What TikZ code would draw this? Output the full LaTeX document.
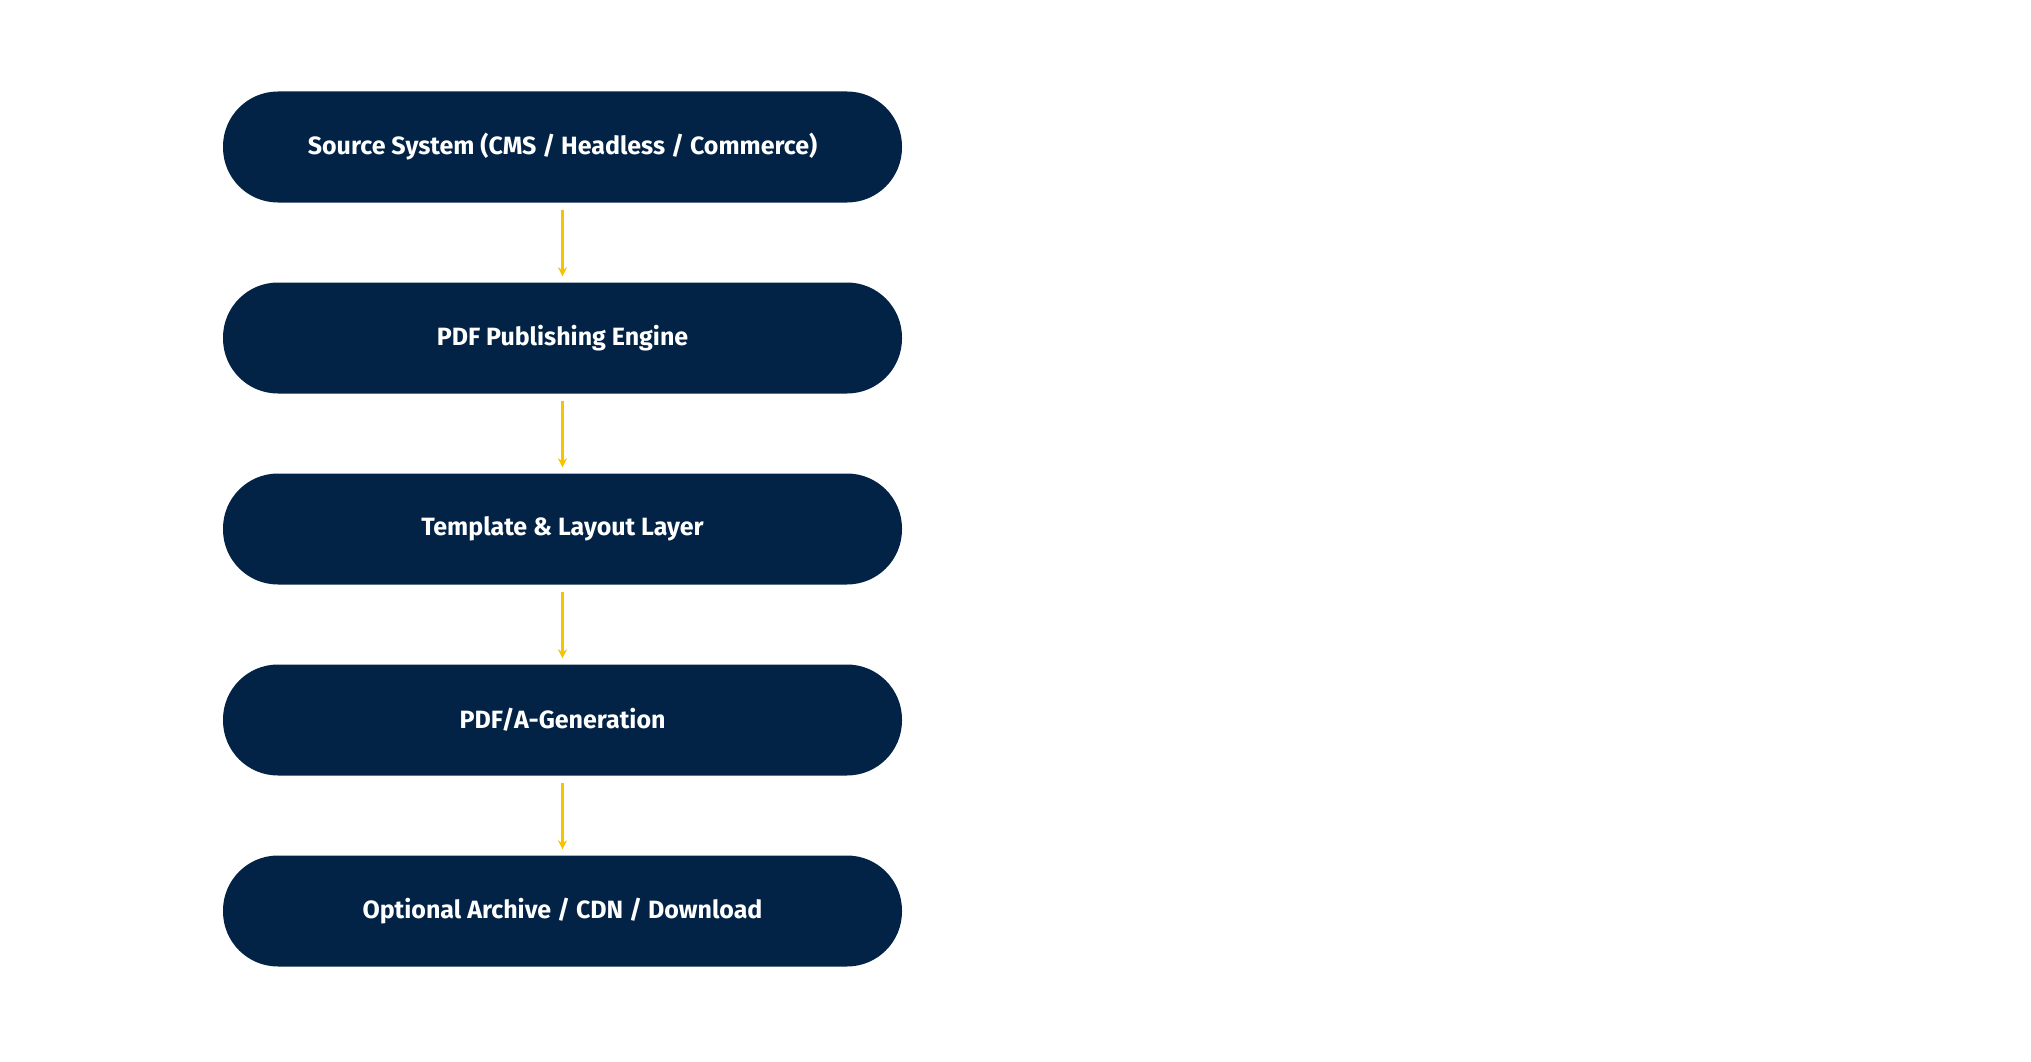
\documentclass[tikz,border=0pt]{standalone}
\usepackage{fontspec}
\setmainfont{Fira Sans}
\usetikzlibrary{arrows.meta}
\definecolor{navy}{HTML}{022346}
\definecolor{gold}{HTML}{F5C400}
\tikzset{
  stage/.style={fill=navy, rounded corners=55pt, minimum width=679pt, minimum height=111pt,
    inner sep=0pt, text=white, font=\fontsize{25}{30}\selectfont\bfseries},
  flow/.style={draw=gold, line width=2.4pt, -{Stealth[length=9pt,width=9pt]}, shorten <=7pt, shorten >=6pt}
}
\begin{document}
\begin{tikzpicture}[x=1pt,y=1pt,yscale=-1,xscale=1]
\useasboundingbox (0,0) rectangle (2031,1062);
% stages
\node[stage] (src) at (562.5,147) {Source System (CMS / Headless / Commerce)};
\node[stage] (eng) at (562.5,338) {PDF Publishing Engine};
\node[stage] (tpl) at (562.5,529) {Template \& Layout Layer};
\node[stage] (gen) at (562.5,720) {PDF/A-Generation};
\node[stage] (out) at (562.5,911) {Optional Archive / CDN / Download};

% connectors
\draw[flow] (src) -- (eng);
\draw[flow] (eng) -- (tpl);
\draw[flow] (tpl) -- (gen);
\draw[flow] (gen) -- (out);
\end{tikzpicture}
\end{document}
